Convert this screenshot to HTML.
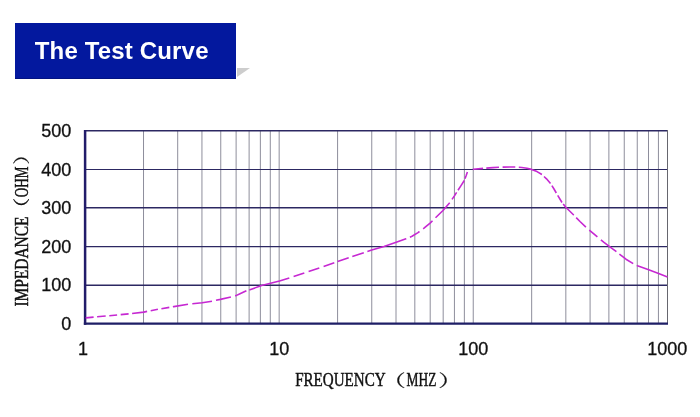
<!DOCTYPE html>
<html><head><meta charset="utf-8"><title>The Test Curve</title>
<style>
html,body{margin:0;padding:0;background:#fff;}
body{width:700px;height:417px;position:relative;overflow:hidden;font-family:"Liberation Sans",sans-serif;}
.hdr{position:absolute;left:15px;top:23px;width:220.5px;height:55.5px;background:#03189e;box-shadow:inset 0 -1px 0 #021382;}
.hdr span{position:absolute;left:19.8px;top:13.5px;color:#fff;font-weight:bold;font-size:24px;line-height:28px;white-space:nowrap;letter-spacing:0.16px;}
.fold{position:absolute;left:236.8px;top:68px;width:0;height:0;border-top:9px solid #cdcdcd;border-right:13.4px solid transparent;}
svg{position:absolute;left:0;top:0;}
</style></head><body>
<div class="hdr"><span>The Test Curve</span></div><div class="fold"></div>
<svg width="700" height="417" viewBox="0 0 700 417">
<g stroke="#8e8e9c" stroke-width="1"><line x1="143.52" y1="131.0" x2="143.52" y2="323.8"/><line x1="177.69" y1="131.0" x2="177.69" y2="323.8"/><line x1="201.94" y1="131.0" x2="201.94" y2="323.8"/><line x1="220.75" y1="131.0" x2="220.75" y2="323.8"/><line x1="236.12" y1="131.0" x2="236.12" y2="323.8"/><line x1="249.11" y1="131.0" x2="249.11" y2="323.8"/><line x1="260.36" y1="131.0" x2="260.36" y2="323.8"/><line x1="270.29" y1="131.0" x2="270.29" y2="323.8"/><line x1="279.17" y1="131.0" x2="279.17" y2="323.8"/><line x1="337.59" y1="131.0" x2="337.59" y2="323.8"/><line x1="371.76" y1="131.0" x2="371.76" y2="323.8"/><line x1="396.01" y1="131.0" x2="396.01" y2="323.8"/><line x1="414.82" y1="131.0" x2="414.82" y2="323.8"/><line x1="430.19" y1="131.0" x2="430.19" y2="323.8"/><line x1="443.18" y1="131.0" x2="443.18" y2="323.8"/><line x1="454.43" y1="131.0" x2="454.43" y2="323.8"/><line x1="464.36" y1="131.0" x2="464.36" y2="323.8"/><line x1="473.24" y1="131.0" x2="473.24" y2="323.8"/><line x1="531.66" y1="131.0" x2="531.66" y2="323.8"/><line x1="565.83" y1="131.0" x2="565.83" y2="323.8"/><line x1="590.08" y1="131.0" x2="590.08" y2="323.8"/><line x1="608.89" y1="131.0" x2="608.89" y2="323.8"/><line x1="624.26" y1="131.0" x2="624.26" y2="323.8"/><line x1="637.25" y1="131.0" x2="637.25" y2="323.8"/><line x1="648.50" y1="131.0" x2="648.50" y2="323.8"/><line x1="658.43" y1="131.0" x2="658.43" y2="323.8"/></g>
<g stroke="#2c2862"><line x1="85.1" y1="130.75" x2="668" y2="130.75" stroke-width="1.4"/><line x1="85.1" y1="169.5" x2="668" y2="169.5" stroke-width="1.1"/><line x1="85.1" y1="207.75" x2="668" y2="207.75" stroke-width="1.4"/><line x1="85.1" y1="246.55" x2="668" y2="246.55" stroke-width="1.15"/><line x1="85.1" y1="285.3" x2="668" y2="285.3" stroke-width="1.4"/></g>
<line x1="667.5" y1="130" x2="667.5" y2="324" stroke="#66666e" stroke-width="1"/>
<line x1="85.1" y1="130" x2="85.1" y2="324.8" stroke="#221c6a" stroke-width="2.5"/>
<line x1="83.85" y1="323.7" x2="668" y2="323.7" stroke="#1e1e66" stroke-width="2.3"/>
<path d="M85.7,317.9 L93.6,317.1 M97.1,316.8 L105.7,316.0 M109.3,315.7 L117.1,315.0 M120.7,314.6 L128.6,313.9 M132.1,313.5 L143.8,312.1 L147.1,311.4 M150.7,310.7 L157.9,309.3 M161.4,308.7 L169.3,307.4 M172.9,306.8 L173.8,306.6 L188.0,304.3 M192.3,303.8 L202.2,302.7 L212.0,301.2 M216.0,300.3 L220.4,299.4 L230.9,297.0 M235.1,295.8 L236.0,295.6 L240.0,293.7 L246.4,290.7 M249.3,289.9 L261.6,285.6 L279.5,281.0 L289.3,277.9 M293.6,276.4 L304.3,272.9 M308.6,271.5 L319.3,267.9 M323.6,266.4 L334.3,262.7 M337.6,261.6 L348.7,257.7 M352.3,256.5 L363.8,252.7 M367.4,251.5 L371.7,250.1 L384.0,246.4 L396.2,242.2 L406.0,238.8 L406.3,238.7 M409.9,237.2 L412.0,236.3 L418.0,232.6 L419.5,231.5 M423.2,228.8 L424.0,228.2 L430.4,222.9 L432.5,220.8 M435.5,217.8 L436.8,216.5 L443.0,210.5 L449.7,202.7 M452.0,199.4 L454.6,195.6 L456.6,192.4 M458.0,190.2 L461.0,185.6 L464.3,180.5 M465.0,178.6 L466.0,176.0 L467.4,172.1 M472.8,169.5 L473.4,169.3 L483.1,168.4 M486.3,168.1 L493.0,167.6 L499.0,167.3 M502.6,167.1 L503.0,167.1 L515.3,167.0 M518.8,167.3 L521.7,167.5 L527.0,168.3 L531.5,169.4 L537.0,171.6 L541.9,174.5 M544.0,176.5 L546.5,178.8 L550.5,183.4 M551.9,185.6 L554.0,189.0 L556.3,193.0 M557.7,195.4 L558.3,196.4 L562.0,202.5 M563.2,204.0 L565.8,207.3 L573.7,215.0 L573.8,215.1 M576.2,217.6 L580.0,221.5 L585.9,227.2 M589.3,230.1 L590.2,230.9 L597.4,236.9 M600.9,239.8 L604.0,242.3 L609.2,246.3 L616.4,251.7 M619.4,254.1 L626.0,259.2 L633.2,263.6 M636.8,265.4 L637.5,265.8 L648.7,269.7 L658.6,273.4 L667.5,277.0" fill="none" stroke="#c628d2" stroke-width="1.6" stroke-linejoin="round"/>
<g font-family="Liberation Sans, sans-serif" font-size="18" fill="#111" stroke="#111" stroke-width="0.3"><text x="71.2" y="330.0" text-anchor="end">0</text><text x="71.2" y="291.4" text-anchor="end">100</text><text x="71.2" y="252.9" text-anchor="end">200</text><text x="71.2" y="214.3" text-anchor="end">300</text><text x="71.2" y="175.8" text-anchor="end">400</text><text x="71.2" y="137.2" text-anchor="end">500</text><text x="83.1" y="355" text-anchor="middle">1</text><text x="279.2" y="355" text-anchor="middle">10</text><text x="473.2" y="355" text-anchor="middle">100</text><text x="667.3" y="355" text-anchor="middle">1000</text></g>
<g font-family="Liberation Serif, serif" font-size="19" fill="#111" stroke="#111" stroke-width="0.45">
<g transform="translate(28,0) rotate(-90)">
<text x="-306.6" y="0" textLength="90" lengthAdjust="spacingAndGlyphs">IMPEDANCE</text>
<text x="-218.7" y="0" font-family="Noto Serif CJK SC, serif" font-size="16.7" stroke-width="0.2" textLength="21" lengthAdjust="spacingAndGlyphs">（</text>
<text x="-197.2" y="0" textLength="30.6" lengthAdjust="spacingAndGlyphs">OHM</text>
<text x="-164.8" y="0" font-family="Noto Serif CJK SC, serif" font-size="16.7" stroke-width="0.2" textLength="21" lengthAdjust="spacingAndGlyphs">）</text>
</g>
<text x="295.2" y="386.2" textLength="90.4" lengthAdjust="spacingAndGlyphs">FREQUENCY</text>
<text x="381.8" y="387" font-family="Noto Serif CJK SC, serif" font-size="16.7" stroke-width="0.2" textLength="24" lengthAdjust="spacingAndGlyphs">（</text>
<text x="406.6" y="386.2" textLength="29.8" lengthAdjust="spacingAndGlyphs">MHZ</text>
<text x="438.3" y="387" font-family="Noto Serif CJK SC, serif" font-size="16.7" stroke-width="0.2" textLength="24" lengthAdjust="spacingAndGlyphs">）</text>
</g>
</svg>
</body></html>
